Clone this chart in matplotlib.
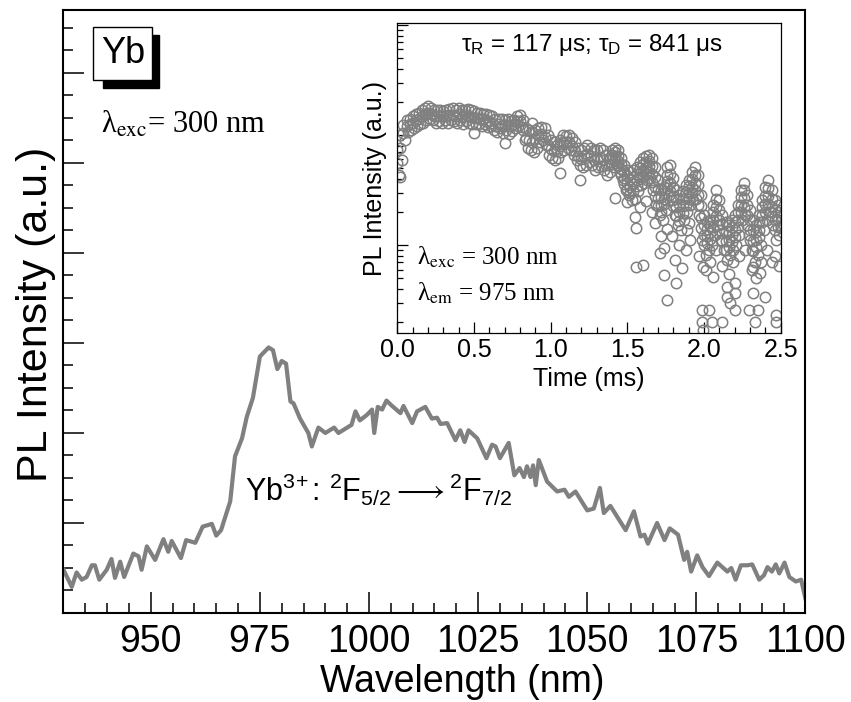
import matplotlib
matplotlib.use("Agg")
import matplotlib.pyplot as plt
from matplotlib.patches import Rectangle
from matplotlib.ticker import MultipleLocator, LogLocator, NullFormatter, FormatStrFormatter
import numpy as np

plt.rcParams['font.family'] = ['Liberation Sans', 'DejaVu Sans']
plt.rcParams['mathtext.fontset'] = 'custom'
plt.rcParams['mathtext.rm'] = 'Liberation Sans'
plt.rcParams['mathtext.it'] = 'Liberation Sans:italic'
plt.rcParams['mathtext.sf'] = 'Liberation Sans'

# emission spectrum
wavelength = [930.0, 931.9, 933.0, 934.2, 935.3, 936.5, 937.2, 938.2, 939.9, 941.0,
              941.8, 943.0, 943.9, 946.0, 947.2, 947.9, 949.1, 951.0, 952.9, 954.0,
              954.8, 956.9, 958.1, 960.2, 961.9, 964.0, 965.0, 966.1, 968.2, 969.3,
              970.9, 972.0, 973.4, 975.0, 977.0, 978.0, 979.0, 980.0, 981.0, 982.0,
              982.7, 984.2, 986.1, 986.9, 988.4, 990.0, 992.0, 993.0, 996.0, 996.9,
              997.9, 999.5, 1000.7, 1001.2, 1002.0, 1003.0, 1004.0, 1005.3, 1007.2, 1007.9,
              1009.9, 1011.0, 1012.9, 1014.4, 1015.6, 1016.4, 1017.9, 1019.8, 1020.9, 1021.9,
              1022.8, 1024.8, 1026.9, 1028.2, 1029.0, 1030.0, 1032.0, 1033.3, 1034.5, 1035.5,
              1036.2, 1037.0, 1037.6, 1038.2, 1038.9, 1040.8, 1043.1, 1044.8, 1045.8, 1047.3,
              1050.0, 1051.5, 1052.9, 1053.8, 1055.3, 1058.8, 1060.7, 1062.2, 1063.1, 1063.9,
              1066.0, 1067.7, 1068.9, 1070.8, 1072.2, 1072.9, 1073.8, 1075.2, 1076.4, 1077.9,
              1079.8, 1082.1, 1083.0, 1084.0, 1085.2, 1086.7, 1087.8, 1089.4, 1090.5, 1091.3,
              1092.3, 1093.2, 1094.0, 1095.2, 1096.3, 1097.8, 1099.0, 1100.0]
intensity = [0.48, 0.29, 0.45, 0.37, 0.40, 0.53, 0.53, 0.37, 0.48, 0.60,
             0.39, 0.57, 0.40, 0.66, 0.63, 0.48, 0.74, 0.59, 0.82, 0.68,
             0.80, 0.61, 0.81, 0.78, 0.96, 0.99, 0.86, 0.92, 1.24, 1.74,
             1.94, 2.18, 2.39, 2.85, 2.95, 2.92, 2.71, 2.80, 2.77, 2.35,
             2.33, 2.16, 2.00, 1.85, 2.06, 2.00, 2.06, 2.00, 2.09, 2.24,
             2.14, 2.20, 2.26, 2.00, 2.29, 2.26, 2.36, 2.30, 2.22, 2.30,
             2.11, 2.24, 2.29, 2.16, 2.17, 2.10, 2.11, 1.92, 2.03, 1.90,
             2.03, 1.94, 1.72, 1.87, 1.85, 1.72, 1.89, 1.53, 1.61, 1.51,
             1.63, 1.51, 1.64, 1.42, 1.70, 1.46, 1.35, 1.37, 1.29, 1.35,
             1.14, 1.16, 1.39, 1.11, 1.19, 0.92, 1.13, 0.85, 0.87, 0.77,
             1.00, 0.81, 0.94, 0.87, 0.59, 0.68, 0.46, 0.64, 0.51, 0.41,
             0.56, 0.46, 0.50, 0.37, 0.53, 0.53, 0.54, 0.37, 0.42, 0.51,
             0.46, 0.54, 0.44, 0.56, 0.40, 0.35, 0.37, 0.16]

# decay curve, sampled every 0.01 ms (alternating upper / lower edge of the noisy band)
decay_t = np.linspace(0.0, 2.5, 251)
decay_i = [73, 43, 100, 59, 123, 90, 137, 107, 140, 111,
           148, 115, 155, 120, 160, 125, 169, 130, 175, 137,
           183, 140, 175, 137, 169, 130, 169, 133, 169, 130,
           165, 137, 169, 130, 172, 137, 175, 133, 169, 130,
           175, 137, 169, 125, 169, 133, 172, 130, 169, 127,
           165, 125, 160, 127, 160, 120, 157, 125, 155, 118,
           152, 120, 148, 111, 140, 107, 139, 115, 140, 104,
           137, 111, 140, 102, 133, 109, 137, 115, 148, 120,
           152, 118, 137, 90, 115, 76, 111, 73, 107, 70,
           111, 76, 115, 86, 118, 90, 115, 81, 100, 66,
           90, 62, 86, 59, 81, 62, 90, 70, 100, 73,
           98, 76, 100, 73, 94, 66, 86, 59, 76, 53,
           73, 51, 76, 53, 81, 57, 76, 53, 73, 48,
           73, 51, 76, 52, 73, 48, 66, 43, 62, 46,
           73, 51, 76, 53, 73, 46, 62, 39, 53, 32,
           48, 28.5, 46, 25.7, 48, 26.5, 51, 31, 57, 35,
           62, 37, 64, 39, 66, 41, 62, 32, 51, 23,
           39, 18.7, 32, 16.9, 34, 20.8, 51, 28.5, 53, 25.7,
           41, 18.7, 32, 15.2, 28.5, 13.7, 31, 16.9, 35, 20,
           39, 23, 46, 25.7, 51, 26.5, 43, 18.7, 28.5, 11.1,
           18.7, 8.1, 16.2, 9, 16.9, 10, 23, 12.3, 32, 15.2,
           25.7, 11.1, 18.7, 9, 16.2, 7.3, 15.2, 8.1, 16.9, 9,
           18.7, 10, 23, 12.3, 32, 16.9, 37, 18.7, 28.5, 12.3,
           20.8, 9, 16.9, 7, 15.2, 8.1, 18.7, 10, 25.7, 13.7,
           34, 16.9, 39, 20, 32, 15.2, 25.7, 11.1, 23, 12.3,
           20.8]

# middle of the band, every 0.02 ms
mid_t = np.linspace(0.0, 2.5, 126)
mid_i = [56, 77, 105, 121, 125, 130, 136, 141, 148, 155,
         160, 155, 148, 150, 148, 150, 148, 153, 153, 148,
         155, 145, 150, 150, 147, 144, 143, 139, 140, 135,
         135, 128, 122, 126, 121, 123, 120, 120, 126, 133,
         135, 111, 94, 90, 86, 92, 100, 103, 97, 81,
         74, 71, 71, 79, 86, 86, 86, 79, 71, 64,
         61, 64, 68, 64, 59, 61, 63, 59, 53, 53,
         61, 64, 58, 49, 41, 37, 34, 36, 39, 45,
         48, 50, 52, 44, 34, 27, 23, 26, 38, 37,
         28, 22, 20, 22.6, 26.6, 30, 34, 37, 28.5, 17.8,
         12.3, 12, 13, 16.9, 22, 16.9, 13, 10.9, 11.1, 12.3,
         13.7, 16.9, 23, 26.6, 18.7, 13.7, 10.9, 11.1, 13.7, 18.7,
         23.6, 28, 22, 16.9, 16.9, 15]

# quarter rows of the wide tail, every 0.02 ms from 1.4 ms
tail_t = np.linspace(1.4, 2.5, 56)
tail_hi = [66.5, 70, 65, 55, 47, 42.4, 39.8, 41.5, 44.2, 50,
           54.5, 56.9, 58, 52.2, 41.5, 32.3, 27.3, 29.7, 43.3, 44.2,
           33.7, 26.2, 23.6, 26.2, 30.3, 34.4, 39.8, 43.3, 35.1, 22.6,
           15.2, 14, 14.9, 20, 26.2, 20.8, 15.5, 13.4, 13.1, 14.6,
           16.2, 20, 27.3, 31.6, 23.1, 16.9, 13.7, 13.1, 16.2, 22.1,
           27.9, 33, 26.2, 20.8, 20, 18.4]
tail_lo = [55, 58, 52, 43.7, 35.9, 32.3, 29.7, 31, 34.4, 39.8,
           42.4, 44.2, 46.1, 37.4, 27.9, 22.6, 20, 23.6, 33, 31,
           22.6, 18.4, 16.5, 19.5, 23.1, 26.2, 29.7, 31.6, 23.1, 14.3,
           10, 10.4, 11.3, 14.6, 18.4, 13.7, 10.9, 9, 9.6, 10.6,
           11.8, 14.6, 20, 22.1, 15.2, 11.1, 8.8, 9.6, 11.8, 16.2,
           20, 23.6, 18.4, 13.7, 14.6, 14.3]

# scattered low points
out_t = [0.02, 0.50, 0.70, 0.876, 1.06, 1.19, 1.42, 1.50, 1.556, 1.556,
         1.60, 1.68, 1.71, 1.74, 1.74, 1.756, 1.81, 1.82, 1.854, 1.886,
         1.91, 1.984, 1.984, 1.995, 1.995, 2.03, 2.05, 2.06, 2.115, 2.147,
         2.147, 2.17, 2.20, 2.20, 2.20, 2.29, 2.32, 2.32, 2.33, 2.35,
         2.364, 2.40, 2.46, 2.47, 2.47, 1.62, 1.72, 1.76, 1.84, 1.88,
         1.97, 2.01, 2.04, 2.08, 2.12, 2.16, 2.19, 2.23, 2.27, 2.31,
         2.34, 2.37, 2.41, 2.44, 2.49, 1.90, 1.79, 1.66, 1.58, 1.55]
out_i = [42, 104, 84, 128, 45, 39, 27, 24.7, 14.3, 6.3,
         6.6, 16, 8.4, 9.4, 5.3, 3.2, 7.3, 4.5, 6.2, 13.7,
         11.1, 2.56, 2.0, 1.7, 6.3, 2.56, 2.0, 5.1, 2.0, 4.15,
         3.4, 2.96, 4.5, 2.56, 3.7, 2.56, 6.3, 3.7, 2.0, 2.56,
         5.6, 3.4, 8.0, 2.3, 2.0, 25, 12, 14, 10, 9,
         8, 6, 7, 9, 6.5, 5.5, 7, 8, 9, 6,
         5, 7, 9, 7, 6.5, 16, 12, 20, 22, 18]

gray = '#808080'

fig = plt.figure(figsize=(8.51, 7.02), dpi=100)
ax = fig.add_axes([0.0746, 0.1268, 0.8719, 0.859])

ax.plot(wavelength, intensity, color=gray, lw=3.0)
ax.set_xlim(930, 1100)
ax.set_ylim(0, 6.7)
ax.xaxis.set_major_locator(MultipleLocator(25))
ax.xaxis.set_minor_locator(MultipleLocator(5))
ax.yaxis.set_major_locator(MultipleLocator(1))
ax.yaxis.set_minor_locator(MultipleLocator(0.25))
ax.tick_params(which='both', direction='in', top=False, right=False, width=1.1)
ax.tick_params(which='major', length=15, labelsize=27, pad=8)
ax.tick_params(which='minor', length=7)
ax.tick_params(axis='y', labelleft=False)
for s in ax.spines.values():
    s.set_linewidth(1.5)

ax.set_xlabel('Wavelength (nm)', fontsize=27)
ax.xaxis.set_label_coords(0.538, -0.084)
ax.set_ylabel('PL Intensity (a.u.)', fontsize=31)
ax.yaxis.set_label_coords(-0.01, 0.496)

# "Yb" label in a box with a black drop shadow
ax.add_patch(Rectangle((0.0526, 0.8706), 0.0755, 0.0879, transform=ax.transAxes,
                       fc='black', ec='black', lw=1, zorder=4))
ax.add_patch(Rectangle((0.0404, 0.884), 0.0795, 0.0879, transform=ax.transAxes,
                       fc='white', ec='black', lw=1, zorder=5))
ax.text(0.0802, 0.9278, 'Yb', transform=ax.transAxes, ha='center', va='center',
        fontsize=26, zorder=6)

serif = ['Liberation Serif', 'DejaVu Serif']
ax.text(0.05, 0.809, r'λ$_{\mathrm{exc}}$= 300 nm', transform=ax.transAxes,
        ha='left', va='center', fontsize=22, family=serif, math_fontfamily='stix')
ax.text(0.4245, 0.204, r'Yb$^{3\!+}$: $^{2}$F$_{5/2}$$\longrightarrow$$^{2}$F$_{7/2}$',
        transform=ax.transAxes, ha='center', va='center', fontsize=22)

# inset: decay curve
ins = fig.add_axes([0.4669, 0.526, 0.4505, 0.4408])
kw = dict(marker='o', ms=7.5, mfc='none', mec=gray, mew=1.1, ls='none')
ins.plot(decay_t, decay_i, **kw)
ins.plot(mid_t, mid_i, **kw)
ins.plot(tail_t, tail_hi, **kw)
ins.plot(tail_t, tail_lo, **kw)
ins.plot(out_t, out_i, **kw)
ins.set_yscale('log')
ins.set_xlim(0, 2.5)
ins.set_ylim(1.6, 1036)
ins.xaxis.set_major_locator(MultipleLocator(0.5))
ins.xaxis.set_minor_locator(MultipleLocator(0.1))
ins.xaxis.set_major_formatter(FormatStrFormatter('%.1f'))
ins.yaxis.set_major_locator(LogLocator(base=10))
ins.yaxis.set_minor_locator(LogLocator(base=10, subs=np.arange(2, 10)))
ins.yaxis.set_major_formatter(NullFormatter())
ins.yaxis.set_minor_formatter(NullFormatter())
ins.tick_params(which='both', direction='in', top=False, right=False, width=0.9)
ins.tick_params(which='major', length=8, labelsize=18, pad=4)
ins.tick_params(which='minor', length=4)
for s in ins.spines.values():
    s.set_linewidth(0.9)
ins.set_xlabel('Time (ms)', fontsize=18)
ins.xaxis.set_label_coords(0.5, -0.112)
ins.set_ylabel('PL Intensity (a.u.)', fontsize=18)
ins.yaxis.set_label_coords(-0.027, 0.5)

ins.text(0.507, 0.93, r'τ$_{\mathrm{R}}$ = 117 μs; τ$_{\mathrm{D}}$ = 841 μs',
         transform=ins.transAxes, ha='center', va='center', fontsize=17.5)
ins.text(0.05, 0.245, r'λ$_{\mathrm{exc}}$ = 300 nm', transform=ins.transAxes,
         ha='left', va='center', fontsize=18, family=serif, math_fontfamily='stix')
ins.text(0.05, 0.128, r'λ$_{\mathrm{em}}$ = 975 nm', transform=ins.transAxes,
         ha='left', va='center', fontsize=18, family=serif, math_fontfamily='stix')

fig.savefig('out.png', dpi=100)
